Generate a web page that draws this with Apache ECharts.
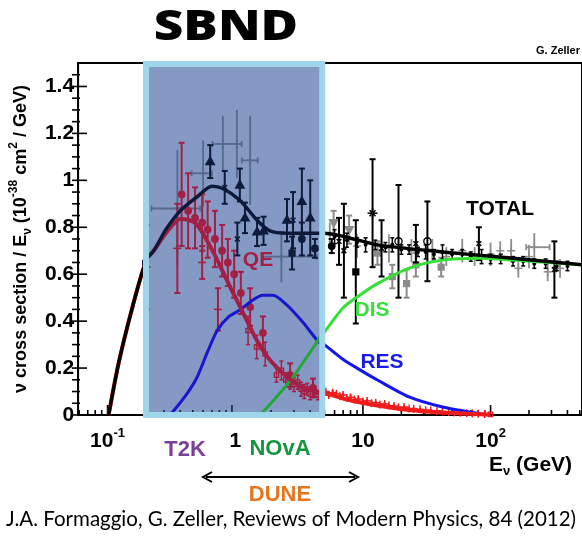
<!DOCTYPE html>
<html><head><meta charset="utf-8">
<script src="https://cdn.jsdelivr.net/npm/echarts@6/dist/echarts.min.js"></script>
<style>html,body{margin:0;padding:0;background:#fff}#c{width:582px;height:538px}</style>
</head><body><div id="c"></div>
<script>
// ---------------- data ----------------
const xRange = [0.0588, 520];
const yRange = [0, 1.5];
const sbndRange = [0.2, 4.8];
const xMajorTicks = [0.1, 1, 10, 100];
const xTickLabels = ['10|-1', '1', '10', '10|2'];
const xMinorTicks = [0.06,0.07,0.08,0.09,0.2,0.3,0.4,0.5,0.6,0.7,0.8,0.9,2,3,4,5,6,7,8,9,20,30,40,50,60,70,80,90,200,300,400,500];
const yMajorTicks = [0,0.2,0.4,0.6,0.8,1.0,1.2,1.4];
const yMinorTicks = [0.05,0.1,0.15,0.25,0.3,0.35,0.45,0.5,0.55,0.65,0.7,0.75,0.85,0.9,0.95,1.05,1.1,1.15,1.25,1.3,1.35,1.45];

const totalCurve = [[0.102,0],[0.122,0.22],[0.155,0.45],[0.193,0.63],[0.214,0.66],[0.25,0.70],[0.31,0.79],[0.40,0.87],[0.54,0.93],[0.70,0.975],[0.85,0.965],[1.15,0.915],[1.56,0.83],[1.96,0.785],[2.65,0.775],[4.5,0.775],[5,0.775],[13,0.725],[42,0.695],[137,0.67],[520,0.64]];
const qeCurve = [[0.102,0],[0.122,0.22],[0.155,0.45],[0.193,0.63],[0.214,0.66],[0.25,0.70],[0.31,0.775],[0.40,0.835],[0.47,0.83],[0.54,0.81],[0.64,0.745],[0.74,0.68],[0.84,0.617],[0.97,0.545],[1.22,0.434],[1.55,0.32],[1.96,0.234],[2.65,0.162],[3.5,0.119],[4.5,0.098],[5,0.094],[7,0.07],[10,0.051],[15,0.035],[23,0.021],[40,0.011],[70,0.005],[100,0.002]];
const resCurve = [[0.33,0],[0.35,0.013],[0.45,0.09],[0.54,0.162],[0.65,0.27],[0.77,0.36],[0.95,0.42],[1.15,0.447],[1.45,0.49],[1.73,0.51],[2.07,0.51],[2.65,0.468],[3.5,0.396],[4.5,0.32],[5,0.30],[7.1,0.234],[10,0.185],[13,0.149],[23,0.077],[42,0.034],[76,0.009],[97,0]];
const disCurve = [[1.6,0],[1.73,0.013],[2.34,0.094],[2.95,0.162],[3.5,0.221],[4.5,0.31],[5,0.353],[7.1,0.46],[10,0.52],[13,0.56],[23,0.626],[42,0.66],[80,0.668],[150,0.66],[520,0.64]];

// points: [E, value, error, xLow, xHigh]
const totBlackTri = [[0.68,1.08,0.07],[1.15,0.98,0.07],[1.26,0.84,0.065],[1.56,0.78,0.06],[1.75,0.785,0.06],[2.65,0.83,0.09],[3.45,0.91,0.14],[4.0,0.84,0.16]];
const totBlackX = [[0.88,0.97,0.07],[1.1,0.75,0.07],[2.95,0.83,0.12],[7.1,0.70,0.2],[26,0.73,0.08],[81,0.73,0.07],[316,0.62,0.12],[6.5,0.74,0.1],[14,0.71,0.12]];
const totBlackSq = [[2.9,0.69,0.07],[8.8,0.61,0.22]];
const totBlackCirc = [[3.45,0.75,0.07],[4.35,0.71,0.04],[5.7,0.72,0.03]];
const totBlackStar = [[11.9,0.86,0.23]];
const totBlackOpen = [[19,0.74,0.24],[32,0.74,0.17]];
const totBlackSmall = [[6,0.76,0.03],[7.5,0.745,0.03],[9,0.735,0.02],[10.5,0.725,0.03],[12.5,0.725,0.02],[15,0.715,0.02],[17,0.725,0.03],[20,0.705,0.02],[23,0.705,0.02],[27,0.695,0.02],[31,0.695,0.03],[36,0.685,0.02],[42,0.695,0.03],[50,0.685,0.02],[60,0.685,0.02],[70,0.675,0.02],[85,0.675,0.03],[100,0.665,0.02],[120,0.665,0.02],[150,0.655,0.02],[180,0.655,0.02],[220,0.645,0.02],[270,0.645,0.02],[330,0.635,0.02],[400,0.635,0.02]];
const totGrayCross = [[0.38,0.88,0.25,0.24,0.57],[0.60,1.03,0.14,0.49,0.70],[0.85,1.155,0.12,0.71,1.19],[1.09,1.155,0.145],[1.38,1.085,0.19,1.19,1.58],[2.4,0.675,0.11,1.73,4.5],[220,0.715,0.06,190,290],
  [5.5,0.77,0.05],[9,0.72,0.05],[16,0.71,0.06],[24,0.70,0.05],[35,0.70,0.05],[45,0.675,0.04],[60,0.70,0.05],[75,0.675,0.04],[100,0.685,0.05],[119,0.70,0.04],[145,0.70,0.05],[165,0.625,0.04],[200,0.675,0.05],[280,0.61,0.04],[350,0.625,0.04]];
const totGraySq = [[17,0.59,0.05],[22,0.56,0.06],[26,0.64,0.05],[41,0.63,0.04],[13,0.69,0.05]];
const totGrayTri = [[5.9,0.82,0.05],[7.8,0.79,0.06]];
const qeRedCirc = [[0.41,0.94,0.22],[0.46,0.87,0.16],[0.52,0.84,0.13],[0.59,0.82,0.12],[0.65,0.79,0.12],[0.74,0.75,0.12],[0.84,0.70,0.11],[0.93,0.65,0.1],[1.04,0.60,0.1],[1.17,0.52,0.09],[1.38,0.46,0.08],[1.73,0.35,0.07],[2.8,0.17,0.05],[4.2,0.115,0.04]];
const qeRedCross = [[0.22,0.63,0.18],[0.38,0.71,0.19],[0.59,0.65,0.07],[0.78,0.45,0.09]];
const qeRedOpen = [[1.33,0.36,0.06],[1.55,0.29,0.05],[1.8,0.26,0.05],[2.2,0.17,0.03],[2.4,0.19,0.04],[2.6,0.15,0.03],[2.8,0.14,0.03],[3.0,0.13,0.03],[3.2,0.14,0.03],[3.4,0.11,0.03],[3.6,0.10,0.03],[3.8,0.11,0.025],[4.0,0.09,0.025],[4.3,0.10,0.025],[4.6,0.085,0.02],[100,0.003,0]];
const qeRedBand = [[5.1,0.10,0.012],[5.4,0.085,0.01],[5.8,0.095,0.012],[6.2,0.09,0.01],[6.6,0.08,0.012],[7.0,0.085,0.01],[7.5,0.072,0.01],[8.0,0.075,0.012],[8.6,0.066,0.01],[9.2,0.068,0.01],[10,0.058,0.01],[10.8,0.06,0.01],[11.7,0.05,0.01],[12.6,0.052,0.008],[13.6,0.045,0.008],[14.8,0.047,0.008],[16,0.04,0.008],[17.5,0.038,0.008],[19,0.033,0.007],[21,0.034,0.007],[23,0.028,0.007],[25,0.026,0.006],[28,0.024,0.006],[31,0.02,0.006],[34,0.019,0.005],[38,0.016,0.005],[42,0.015,0.005],[47,0.013,0.005],[52,0.011,0.004],[58,0.01,0.004],[65,0.008,0.004],[72,0.007,0.004],[80,0.005,0.003],[90,0.004,0.003]];

// ---------------- layout ----------------
const G = {left: 72, top: 63, bottom: 123, right: -3};
const W = 582, H = 538;
const gw = W - G.left - G.right;
const gh = H - G.top - G.bottom;
const lmin = Math.log10(xRange[0]), lmax = Math.log10(xRange[1]);
const px = e => G.left + (Math.log10(e) - lmin) / (lmax - lmin) * gw;
const invPx = p => Math.pow(10, lmin + (p - G.left) / gw * (lmax - lmin));
const BW = 6; // box border width
const innerL = px(sbndRange[0]) + BW / 2, innerR = px(sbndRange[1]) - BW / 2;
const innerT = G.top + 1 + BW / 2, innerB = G.top + gh;
const G2 = {left: innerL, right: W - innerR, top: innerT, bottom: H - innerB};
const y2max = yRange[1] * (innerB - innerT) / gh;

const FONT = 'Liberation Sans';
const outC = {black:'#000', gray:'#8c8c8c', red:'#f01c1c', total:'#000', qe:'#f01c1c', res:'#1414ee', dis:'#35e035', tick:'#000'};
const inC = {black:'#0f1b3a', gray:'#566a8e', red:'#a31f44', total:'#0d1938', qe:'#a31f44', res:'#1717cc', dis:'#25a83a', tick:'#1a2440'};

function lineSeries(data, color, width, g, z) {
  return {type:'line', xAxisIndex:g, yAxisIndex:g, data, showSymbol:false, smooth:0.25,
    lineStyle:{color, width}, z, silent:true, animation:false, clip: g === 1};
}
function marker(kind, c, s, color) {
  const cx = c[0], cy = c[1];
  const st = {stroke: color, lineWidth: 1.5};
  const fl = {fill: color};
  switch (kind) {
    case 'tri': return [{type:'polygon', shape:{points:[[cx,cy-s],[cx-s*0.9,cy+s*0.6],[cx+s*0.9,cy+s*0.6]]}, style:fl}];
    case 'trid': return [{type:'polygon', shape:{points:[[cx,cy+s],[cx-s*0.9,cy-s*0.6],[cx+s*0.9,cy-s*0.6]]}, style:fl}];
    case 'circle': return [{type:'circle', shape:{cx,cy,r:s*0.65}, style:fl}];
    case 'square': return [{type:'rect', shape:{x:cx-s*0.6,y:cy-s*0.6,width:s*1.2,height:s*1.2}, style:fl}];
    case 'ocircle': return [{type:'circle', shape:{cx,cy,r:s*0.6}, style:{fill:'rgba(0,0,0,0)', stroke:color, lineWidth:1.3}}];
    case 'osquare': return [{type:'rect', shape:{x:cx-s*0.55,y:cy-s*0.55,width:s*1.1,height:s*1.1}, style:{fill:'rgba(0,0,0,0)', stroke:color, lineWidth:1.3}}];
    case 'plus': return [{type:'line', shape:{x1:cx-s,y1:cy,x2:cx+s,y2:cy}, style:st},{type:'line', shape:{x1:cx,y1:cy-s,x2:cx,y2:cy+s}, style:st}];
    case 'xmark': return [{type:'line', shape:{x1:cx-s*0.6,y1:cy-s*0.6,x2:cx+s*0.6,y2:cy+s*0.6}, style:st},{type:'line', shape:{x1:cx-s*0.6,y1:cy+s*0.6,x2:cx+s*0.6,y2:cy-s*0.6}, style:st}];
    case 'star': return marker('plus', c, s, color).concat(marker('xmark', c, s, color));
    case 'dot': return [{type:'circle', shape:{cx,cy,r:s*0.4}, style:fl}];
  }
  return [];
}
function pointSeries(data, kind, color, size, lw, cap, g, z) {
  return {type:'custom', xAxisIndex:g, yAxisIndex:g, data, z, silent:true, animation:false, clip: g === 1,
    encode:{x:0, y:1},
    renderItem(params, api) {
      const x = api.value(0), y = api.value(1), e = api.value(2), xl = api.value(3), xh = api.value(4);
      const c = api.coord([x, y]);
      const ch = [];
      const st = {stroke: color, lineWidth: lw};
      if (isFinite(e) && e > 0) {
        const t = api.coord([x, y + e]), b = api.coord([x, y - e]);
        ch.push({type:'line', shape:{x1:c[0], y1:t[1], x2:c[0], y2:b[1]}, style:st});
        if (cap > 0) {
          ch.push({type:'line', shape:{x1:c[0]-cap, y1:t[1], x2:c[0]+cap, y2:t[1]}, style:st});
          ch.push({type:'line', shape:{x1:c[0]-cap, y1:b[1], x2:c[0]+cap, y2:b[1]}, style:st});
        }
      }
      if (isFinite(xl) && isFinite(xh)) {
        const l = api.coord([xl, y]), r = api.coord([xh, y]);
        ch.push({type:'line', shape:{x1:l[0], y1:c[1], x2:r[0], y2:c[1]}, style:st});
        ch.push({type:'line', shape:{x1:l[0], y1:c[1]-3, x2:l[0], y2:c[1]+3}, style:st});
        ch.push({type:'line', shape:{x1:r[0], y1:c[1]-3, x2:r[0], y2:c[1]+3}, style:st});
      }
      return {type:'group', children: ch.concat(marker(kind, c, size, color))};
    }};
}
function tickSeries(values, axis, len, color, g, z) {
  return {type:'custom', xAxisIndex:g, yAxisIndex:g, z, silent:true, animation:false, clip: g === 1,
    data: values.map(v => axis === 'x' ? [v, 0] : [xRange[0], v]), encode:{x:0, y:1},
    renderItem(params, api) {
      const c = api.coord([api.value(0), api.value(1)]);
      if (axis === 'x') {
        const yb = params.coordSys.y + params.coordSys.height;
        return {type:'line', shape:{x1:c[0], y1:yb, x2:c[0], y2:yb-len}, style:{stroke:color, lineWidth:1.6}};
      }
      const xl = G.left;
      return {type:'line', shape:{x1:xl, y1:c[1], x2:xl+len, y2:c[1]}, style:{stroke:color, lineWidth:1.6}};
    }};
}
function layerSeries(g, C, z) {
  return [
    tickSeries(xMinorTicks, 'x', 5, C.tick, g, z),
    tickSeries(xMajorTicks, 'x', 10, C.tick, g, z),
    lineSeries(resCurve, C.res, 3, g, z),
    lineSeries(disCurve, C.dis, 3, g, z),
    pointSeries(totGrayCross, 'plus', C.gray, 4, 1.8, 0, g, z),
    pointSeries(totGraySq, 'square', C.gray, 6, 2, 3, g, z),
    pointSeries(totGrayTri, 'trid', C.gray, 6, 2, 3, g, z),
    lineSeries(qeCurve, C.qe, 4, g, z),
    pointSeries(qeRedBand, 'plus', C.red, 4, 2, 0, g, z),
    pointSeries(qeRedOpen, 'osquare', C.red, 4, 1.5, 2, g, z),
    pointSeries(qeRedCross, 'plus', C.red, 4, 2, 3, g, z),
    pointSeries(qeRedCirc, 'circle', C.red, 6, 2, 3, g, z),
    lineSeries(totalCurve, C.total, 3.5, g, z),
    pointSeries(totBlackSmall, 'dot', C.black, 5, 1.5, 2, g, z),
    pointSeries(totBlackX, 'xmark', C.black, 4, 2, 3, g, z),
    pointSeries(totBlackOpen, 'ocircle', C.black, 6, 2, 3, g, z),
    pointSeries(totBlackStar, 'star', C.black, 5, 2, 3, g, z),
    pointSeries(totBlackSq, 'square', C.black, 6, 2, 3, g, z),
    pointSeries(totBlackCirc, 'circle', C.black, 6, 2, 3, g, z),
    pointSeries(totBlackTri, 'tri', C.black, 6, 2, 3, g, z)
  ];
}
function boxSeries(fill, stroke, z) {
  return {type:'custom', xAxisIndex:0, yAxisIndex:0, z, silent:true, animation:false,
    data:[[sbndRange[0], yRange[1], sbndRange[1], yRange[0]]], encode:{x:[0,2], y:[1,3]},
    renderItem(params, api) {
      const a = api.coord([api.value(0), api.value(1)]);
      const b = api.coord([api.value(2), api.value(3)]);
      const top = a[1] + 1;
      return {type:'rect', shape:{x:a[0], y:top, width:b[0]-a[0], height:b[1]-top},
        style: fill ? {fill, stroke:null} : {fill:'rgba(0,0,0,0)', stroke, lineWidth:BW}};
    }};
}

const rich = {
  b:{fontSize:21, fontWeight:'bold', fontFamily:FONT, color:'#000', lineHeight:28},
  sup:{fontSize:13, fontWeight:'bold', fontFamily:FONT, color:'#000', lineHeight:14, verticalAlign:'top'}
};

const chart = echarts.init(document.getElementById('c'), null, {renderer:'canvas'});
chart.setOption({
  animation:false,
  backgroundColor:'#fff',
  grid:[
    {left:G.left, top:G.top, right:G.right, bottom:G.bottom, show:true, borderColor:'#000', borderWidth:2, backgroundColor:'#fff'},
    {left:G2.left, top:G2.top, right:G2.right, bottom:G2.bottom, show:false}
  ],
  xAxis:[
    {type:'log', logBase:10, min:xRange[0], max:xRange[1], gridIndex:0,
      axisLine:{show:true, lineStyle:{color:'#000', width:2}}, axisTick:{show:false}, splitLine:{show:false},
      axisLabel:{showMinLabel:false, showMaxLabel:false, margin:12,
        formatter: v => {
          const i = xMajorTicks.findIndex(t => Math.abs(Math.log10(t) - Math.log10(v)) < 1e-6);
          if (i < 0) return '';
          const p = xTickLabels[i].split('|');
          return '{b|' + p[0] + '}' + (p[1] ? '{sup|' + p[1] + '}' : '');
        }, rich}},
    {type:'log', logBase:10, min:invPx(innerL), max:invPx(innerR), gridIndex:1, show:false}
  ],
  yAxis:[
    {type:'value', min:yRange[0], max:yRange[1], interval:0.2, gridIndex:0,
      axisLine:{show:true, lineStyle:{color:'#000', width:2}}, axisTick:{show:false}, splitLine:{show:false},
      axisLabel:{showMaxLabel:false, margin:4, fontSize:21, fontWeight:'bold', fontFamily:FONT, color:'#000', padding:[8,0,0,0]},
      name:'ν cross section / E{sub|ν} (10{sup|-38} cm{sup|2} / GeV)', nameLocation:'middle', nameGap:35, nameRotate:90,
      nameTextStyle:{fontSize:18, fontWeight:'bold', fontFamily:FONT, color:'#000', lineHeight:26,
        rich:{sub:{fontSize:12, fontWeight:'bold', fontFamily:FONT, lineHeight:12, verticalAlign:'bottom'},
              sup:{fontSize:12, fontWeight:'bold', fontFamily:FONT, lineHeight:12, verticalAlign:'top'}}}},
    {type:'value', min:0, max:y2max, gridIndex:1, show:false}
  ],
  series: [].concat(
    [tickSeries(yMajorTicks, 'y', 15, '#000', 0, 2), tickSeries(yMinorTicks, 'y', 8, '#000', 0, 2)],
    layerSeries(0, outC, 2),
    [boxSeries('#8599c5', null, 3)],
    layerSeries(1, inC, 4),
    [boxSeries(null, '#9dd5ea', 5)]
  ),
  graphic:[
    {type:'text', x:226, y:28, scaleX:1.22, z:10, style:{text:'SBND', fontSize:42, fontWeight:800, fontFamily:'Open Sans', fill:'#000', align:'center', verticalAlign:'middle'}},
    {type:'text', x:536, y:51, z:10, style:{text:'G. Zeller', fontSize:11, fontWeight:'bold', fontFamily:FONT, fill:'#000', align:'left', verticalAlign:'middle'}},
    {type:'text', x:500, y:209, z:10, style:{text:'TOTAL', fontSize:21, fontWeight:'bold', fontFamily:FONT, fill:'#000', align:'center', verticalAlign:'middle'}},
    {type:'text', x:258, y:260, z:10, style:{text:'QE', fontSize:21, fontWeight:'bold', fontFamily:FONT, fill:inC.qe, align:'center', verticalAlign:'middle'}},
    {type:'text', x:372, y:310, z:10, style:{text:'DIS', fontSize:21, fontWeight:'bold', fontFamily:FONT, fill:'#3ade3a', align:'center', verticalAlign:'middle'}},
    {type:'text', x:382, y:362, z:10, style:{text:'RES', fontSize:21, fontWeight:'bold', fontFamily:FONT, fill:'#1a1aee', align:'center', verticalAlign:'middle'}},
    {type:'text', x:489, y:465, z:10, style:{text:'E{s|ν} (GeV)', fontSize:21, fontWeight:'bold', fontFamily:FONT, fill:'#000', align:'left', verticalAlign:'middle',
      rich:{s:{fontSize:13, fontWeight:'bold', fontFamily:FONT, lineHeight:12, verticalAlign:'bottom'}}, lineHeight:26}},
    {type:'text', x:185, y:450, z:10, style:{text:'T2K', fontSize:22, fontWeight:'bold', fontFamily:FONT, fill:'#7b3f9b', align:'center', verticalAlign:'middle'}},
    {type:'text', x:280, y:449, z:10, style:{text:'NOvA', fontSize:22, fontWeight:'bold', fontFamily:FONT, fill:'#15963e', align:'center', verticalAlign:'middle'}},
    {type:'text', x:280, y:495, z:10, style:{text:'DUNE', fontSize:22, fontWeight:'bold', fontFamily:FONT, fill:'#e4761f', align:'center', verticalAlign:'middle'}},
    {type:'line', z:10, shape:{x1:206, y1:477, x2:355, y2:477}, style:{stroke:'#000', lineWidth:2}},
    {type:'polyline', z:10, shape:{points:[[212,472],[203,477],[212,482]]}, style:{stroke:'#000', lineWidth:2, fill:null}},
    {type:'polyline', z:10, shape:{points:[[349,472],[358,477],[349,482]]}, style:{stroke:'#000', lineWidth:2, fill:null}},
    {type:'text', x:291, y:519, z:10, style:{text:'J.A. Formaggio, G. Zeller, Reviews of Modern Physics, 84 (2012)', fontSize:20.5, fontFamily:'Lato', fill:'#000', align:'center', verticalAlign:'middle'}}
  ]
});
</script></body></html>
